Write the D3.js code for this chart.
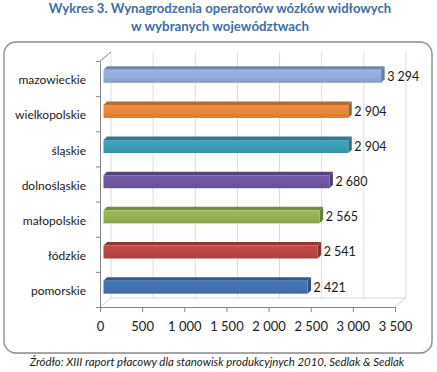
<!DOCTYPE html>
<html>
<head>
<meta charset="utf-8">
<script src="https://cdn.jsdelivr.net/npm/d3@7"></script>
<style>
  body { margin: 0; background: #fff; }
  svg { display: block; }
</style>
</head>
<body>
<div id="chart"></div>
<script>
// Data
var categories = ["mazowieckie", "wielkopolskie", "śląskie", "dolnośląskie", "małopolskie", "łódzkie", "pomorskie"];
var values = [3294, 2904, 2904, 2680, 2565, 2541, 2421];
var barColors = ["#91abd8", "#e7873a", "#3d9cb4", "#6f56a0", "#92b24e", "#b94542", "#4172b2"];
var tickValues = [0, 500, 1000, 1500, 2000, 2500, 3000, 3500];
var titleLines = ["Wykres 3. Wynagrodzenia operatorów wózków widłowych", "w wybranych województwach"];
var sourceText = "Źródło: XIII raport płacowy dla stanowisk produkcyjnych 2010, Sedlak & Sedlak";

var width = 437, height = 372;
var font = "Lato, 'Open Sans', sans-serif";

var svg = d3.select("#chart").append("svg")
  .attr("width", width)
  .attr("height", height);

// polish number format: 3 294
var pl = d3.formatLocale({ decimal: ",", thousands: "\u00a0", grouping: [3], currency: ["", " zł"] });
var fmt = pl.format(",");

// scale a text's font-size so it spans the given width
function fit(sel, w) {
  var l = sel.node().getComputedTextLength();
  sel.attr("font-size", parseFloat(sel.attr("font-size")) * w / l);
}

// Title
var titleBase = [13, 31], titleW = [343, 178];
titleLines.forEach(function(t, i) {
  var tt = svg.append("text")
    .attr("x", 220).attr("y", titleBase[i])
    .attr("text-anchor", "middle")
    .attr("font-family", font)
    .attr("font-weight", "bold")
    .attr("font-size", 14)
    .attr("fill", "#3d6ea8")
    .text(t);
  fit(tt, titleW[i]);
});

// Frame
svg.append("rect")
  .attr("x", 5).attr("y", 43)
  .attr("width", 428).attr("height", 311)
  .attr("rx", 12)
  .attr("fill", "#d0d0d0")
  .attr("opacity", 0.5);
svg.append("rect")
  .attr("x", 4).attr("y", 42)
  .attr("width", 428).attr("height", 311)
  .attr("rx", 12)
  .attr("fill", "#fff")
  .attr("stroke", "#8c8c8c")
  .attr("stroke-width", 1.3);

// Scales
var x = d3.scaleLinear().domain([0, 3500]).range([100, 395]);
var y = d3.scaleBand().domain(categories).range([61, 307]).padding(0);
var depth = { dx: 11, dy: -9 };   // back wall offset
var bd = 3.5;                     // bar depth

// Back wall gridlines
var grid = svg.append("g");
grid.selectAll("line")
  .data(tickValues)
  .join("line")
  .attr("x1", d => x(d) + depth.dx)
  .attr("x2", d => x(d) + depth.dx)
  .attr("y1", y.range()[0] + depth.dy)
  .attr("y2", y.range()[1] + depth.dy)
  .attr("stroke", "#dcdcdc")
  .attr("stroke-width", 1);

// floor and side wall edges
var x0 = x.range()[0], x1 = x.range()[1], yT = y.range()[0], yB = y.range()[1];
svg.append("path")
  .attr("d", `M${x0},${yB}L${x0 + depth.dx},${yB + depth.dy}L${x1 + depth.dx},${yB + depth.dy}L${x1},${yB}`)
  .attr("fill", "none")
  .attr("stroke", "#d4d4d4");
svg.append("path")
  .attr("d", `M${x0},${yT}L${x0 + depth.dx},${yT + depth.dy}`)
  .attr("fill", "none")
  .attr("stroke", "#808080");

// Bars (3D)
var data = categories.map((c, i) => ({ name: c, value: values[i], color: barColors[i] }));
var defs = svg.append("defs");
data.forEach(function(d, i) {
  var g = defs.append("linearGradient")
    .attr("id", "grad" + i)
    .attr("x1", 0).attr("y1", 0).attr("x2", 0).attr("y2", 1);
  var c = d3.color(d.color);
  g.append("stop").attr("offset", "0%").attr("stop-color", c.brighter(0.15));
  g.append("stop").attr("offset", "55%").attr("stop-color", c);
  g.append("stop").attr("offset", "100%").attr("stop-color", c.darker(0.25));
});

var bars = svg.append("g")
  .selectAll("g")
  .data(data)
  .join("g");

var bx = d => x(0) + bd;
var bx1 = d => x(d.value) + bd;
var by = d => y(d.name) + y.bandwidth() * 0.25;
var bh = y.bandwidth() * 0.37;

bars.append("path")
  .attr("d", d => `M${bx(d)},${by(d)}L${bx1(d)},${by(d)}L${bx1(d) + bd},${by(d) - bd}L${bx(d) + bd},${by(d) - bd}Z`)
  .attr("fill", d => d3.color(d.color).darker(0.7));
bars.append("path")
  .attr("d", d => `M${bx1(d)},${by(d)}L${bx1(d) + bd},${by(d) - bd}L${bx1(d) + bd},${by(d) - bd + bh}L${bx1(d)},${by(d) + bh}Z`)
  .attr("fill", d => d3.color(d.color).darker(0.9));
bars.append("rect")
  .attr("x", bx)
  .attr("y", by)
  .attr("width", d => bx1(d) - bx(d))
  .attr("height", bh)
  .attr("fill", (d, i) => "url(#grad" + i + ")");

// value labels
svg.append("g")
  .selectAll("text")
  .data(data)
  .join("text")
  .attr("x", d => bx1(d) + bd + 2.5)
  .attr("y", d => by(d) + bh / 2)
  .attr("dy", "0.35em")
  .attr("font-family", font)
  .attr("font-size", 12.5)
  .attr("fill", "#1a1a1a")
  .text(d => fmt(d.value));

// Left axis (ticks at band boundaries)
var yb = d3.scaleLinear().domain([0, categories.length]).range([yT, yB]);
var yAxis = svg.append("g")
  .attr("transform", `translate(${x0},0)`)
  .call(d3.axisLeft(yb).ticks(categories.length).tickSize(4).tickSizeOuter(0).tickFormat(""));
yAxis.selectAll("path, line").attr("stroke", "#868686");

// category labels
var catLabels = svg.append("g")
  .selectAll("text")
  .data(categories)
  .join("text")
  .attr("x", 86)
  .attr("y", d => y(d) + y.bandwidth() / 2 + 1.5)
  .attr("dy", "0.35em")
  .attr("text-anchor", "end")
  .attr("font-family", font)
  .attr("font-size", 13)
  .attr("fill", "#1a1a1a")
  .text(d => d);
var wl = catLabels.filter(d => d === "wielkopolskie");
var s = 71 / wl.node().getComputedTextLength();
catLabels.attr("font-size", 13 * s);

// Bottom axis
var xAxis = svg.append("g")
  .attr("transform", `translate(0,${yB})`)
  .call(d3.axisBottom(x).tickValues(tickValues).tickSize(5).tickSizeOuter(0).tickPadding(10).tickFormat(fmt));
xAxis.selectAll("path, line").attr("stroke", "#868686");
xAxis.selectAll("text")
  .attr("font-family", font)
  .attr("font-size", 13)
  .attr("fill", "#1a1a1a");

// Source
var src = svg.append("text")
  .attr("x", 217).attr("y", 366)
  .attr("text-anchor", "middle")
  .attr("font-family", font)
  .attr("font-style", "italic")
  .attr("font-size", 11)
  .attr("fill", "#1a1a1a")
  .text(sourceText);
fit(src, 375);
</script>
</body>
</html>
